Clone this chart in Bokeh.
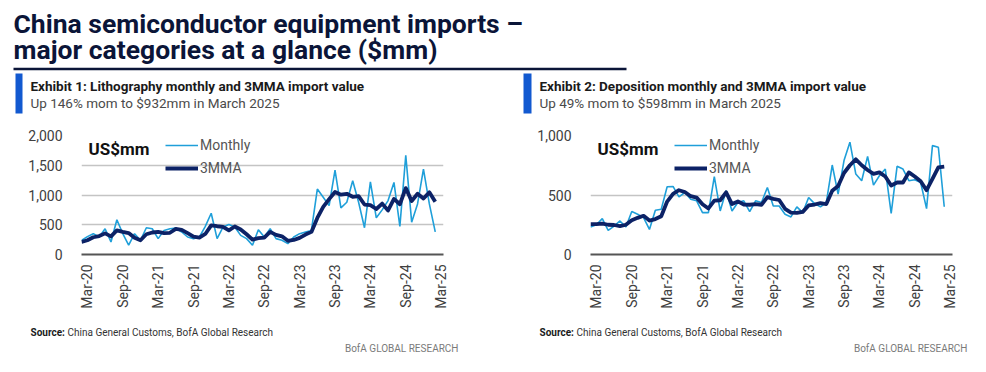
import math
import pandas as pd
from bokeh.plotting import figure
from bokeh.models import Range1d, Label, FixedTicker, Legend, LegendItem, ColumnDataSource
from bokeh.layouts import column, row
from bokeh.embed import file_html
from bokeh.resources import INLINE

# ---------------- data (Feb-20 .. Feb-25, US$mm) ----------------
months = [d.strftime("%b-%y") for d in pd.date_range("2020-02-01", "2025-03-01", freq="MS")]
tick_labels = ["Mar-20", "Sep-20", "Mar-21", "Sep-21", "Mar-22", "Sep-22",
               "Mar-23", "Sep-23", "Mar-24", "Sep-24", "Mar-25"]

litho_monthly = [235, 300, 350, 294, 433, 211, 583, 350, 156, 350, 239, 450, 433, 267, 405,
                 433, 444, 378, 294, 267, 294, 472, 694, 267, 461, 505, 461, 322, 267, 156,
                 417, 294, 433, 267, 239, 183, 294, 350, 378, 405, 1100, 961, 822, 1417, 783,
                 878, 1239, 878, 450, 1222, 617, 750, 906, 1211, 472, 1667, 544, 850, 1433,
                 850, 379]
litho_3mma = [210, 240, 290, 310, 355, 305, 405, 380, 360, 280, 240, 340, 370, 380, 360,
              365, 430, 415, 360, 300, 285, 345, 490, 475, 465, 405, 470, 420, 340, 250,
              275, 285, 380, 330, 305, 230, 245, 280, 335, 380, 615, 800, 930, 1050, 1005,
              1020, 970, 980, 840, 830, 765, 855, 740, 935, 845, 1115, 900, 1020, 940,
              1045, 885]

depo_monthly = [231, 250, 301, 203, 239, 282, 231, 361, 338, 310, 211, 372, 380, 569, 572,
                485, 521, 465, 451, 352, 352, 654, 366, 535, 366, 437, 451, 361, 451, 437,
                563, 408, 408, 338, 316, 400, 352, 479, 428, 400, 437, 752, 507, 789, 944,
                676, 620, 825, 583, 662, 718, 346, 741, 718, 620, 628, 605, 386, 915, 901,
                401]
depo_3mma = [255, 255, 260, 250, 248, 238, 250, 288, 308, 325, 285, 298, 322, 445, 510,
             540, 525, 490, 478, 422, 387, 452, 456, 522, 424, 446, 420, 418, 424, 418,
             482, 468, 458, 384, 352, 350, 358, 412, 420, 432, 424, 535, 575, 685, 750,
             800, 750, 710, 678, 690, 655, 580, 605, 605, 690, 655, 615, 540, 635, 732,
             738]

# ---------------- styles ----------------
FONT = "Roboto"
NAVY = "#0b1538"
LIGHT = "#1f9fd9"
DARK = "#0c2266"
BLUE_BAR = "#1259d0"
GRID = "#c4c4c4"
TXT = "#404040"

W = 984


def blank(width, height):
    f = figure(width=width, height=height, x_range=Range1d(0, width), y_range=Range1d(height, 0),
               output_backend="svg", toolbar_location=None, min_border=0, title=None)
    f.axis.visible = False
    f.grid.visible = False
    f.outline_line_color = None
    f.background_fill_color = "white"
    return f


def lab(f, x, y, text, size, color, bold=False, align="left"):
    # y is the wanted baseline; a small em-based correction is applied for the renderer
    px = float(size.replace("px", ""))
    f.add_layout(Label(x=x, y=y - 0.42 * px, text=text, text_font=FONT, text_font_size=size,
                       text_color=color, text_font_style="bold" if bold else "normal",
                       text_align=align, text_baseline="alphabetic"))


# ---------------- header (page y 0..118) ----------------
HH = 118
header = blank(W, HH)
lab(header, 13, 34, "China semiconductor equipment imports \u2013", "26.5px", NAVY, bold=True)
lab(header, 13, 60, "major categories at a glance ($mm)", "26.5px", NAVY, bold=True)
header.segment(x0=[13], y0=[68.5], x1=[626], y1=[68.5], line_color=NAVY, line_width=2.5)

exhibits = [
    (15, 22, 30, "Exhibit 1: Lithography monthly and 3MMA import value",
     "Up 146% mom to $932mm in March 2025"),
    (523, 531, 539, "Exhibit 2: Deposition monthly and 3MMA import value",
     "Up 49% mom to $598mm in March 2025"),
]
for bx0, bx1, tx, t1, t2 in exhibits:
    header.quad(left=[bx0], right=[bx1], top=[73], bottom=[113], fill_color=BLUE_BAR,
                line_color=None)
    lab(header, tx, 91, t1, "13.5px", "#1a1a1a", bold=True)
    lab(header, tx, 108, t2, "13.5px", "#4a4a4a")


# ---------------- charts (page y 118..315) ----------------
def chart(width, left_border, right_border, monthly, mma, ymax, yticks):
    xs = list(range(len(monthly)))
    p = figure(width=width, height=197, x_range=Range1d(0, 61.4), y_range=Range1d(0, ymax),
               output_backend="svg", toolbar_location=None, title=None,
               min_border_left=left_border, min_border_right=right_border,
               min_border_top=17, min_border_bottom=61)
    p.outline_line_color = None
    p.background_fill_color = "white"
    p.xgrid.visible = False
    p.ygrid.grid_line_color = GRID
    p.ygrid.grid_line_width = 1.5
    p.ygrid.ticker = FixedTicker(ticks=yticks)

    p.yaxis.ticker = FixedTicker(ticks=yticks)
    p.yaxis.major_label_overrides = {t: f"{t:,}" for t in yticks}
    p.yaxis.axis_line_color = None
    p.yaxis.major_tick_line_color = None
    p.yaxis.minor_tick_line_color = None
    p.yaxis.major_label_standoff = 13
    p.yaxis.major_label_text_font = FONT
    p.yaxis.major_label_text_font_size = "14px"
    p.yaxis.major_label_text_color = TXT

    tick_pos = [months.index(t) for t in tick_labels]
    p.xaxis.ticker = FixedTicker(ticks=tick_pos)
    p.xaxis.major_label_overrides = {i: months[i] for i in tick_pos}
    p.xaxis.major_label_orientation = math.pi / 2
    p.xaxis.axis_line_color = "#555555"
    p.xaxis.axis_line_width = 2
    p.xaxis.major_tick_line_color = None
    p.xaxis.minor_tick_line_color = None
    p.xaxis.major_label_standoff = 4
    p.xaxis.major_label_text_font = FONT
    p.xaxis.major_label_text_font_size = "14px"
    p.xaxis.major_label_text_color = TXT

    src = ColumnDataSource(dict(x=xs, m=monthly, a=mma))
    r1 = p.line("x", "m", source=src, line_color=LIGHT, line_width=1.6)
    r2 = p.line("x", "a", source=src, line_color=DARK, line_width=3.8, line_join="round")

    leg = Legend(items=[LegendItem(label="Monthly", renderers=[r1]),
                        LegendItem(label="3MMA", renderers=[r2])],
                 location=(84, 76), orientation="vertical",
                 glyph_width=33, glyph_height=20, label_height=20, spacing=3,
                 label_standoff=2, padding=0, margin=0,
                 background_fill_alpha=0, border_line_alpha=0,
                 label_text_font=FONT, label_text_font_size="14px",
                 label_text_color="#555555")
    p.add_layout(leg)
    p.add_layout(Label(x=7, y=96, x_units="screen", y_units="screen", text="US$mm",
                       text_font=FONT, text_font_size="17px", text_font_style="bold",
                       text_color="#111111"))
    return p


c1 = chart(516, 81, 73, litho_monthly, litho_3mma, 2000, [0, 500, 1000, 1500, 2000])
c2 = chart(468, 74, 32, depo_monthly, depo_3mma, 1000, [0, 500, 1000])

# ---------------- footer (page y 315..370) ----------------
FH = 55
footer = blank(W, FH)
for sx, bx in [(30, 458), (539, 967)]:
    lab(footer, sx, 21.5, "Source:", "10px", "#1a1a1a", bold=True)
    lab(footer, sx + 37, 21.5, "China General Customs, BofA Global Research", "10px", "#333333")
    lab(footer, bx, 37.5, "BofA GLOBAL RESEARCH", "10px", "#7a7a7a", align="right")

layout = column(header, row(c1, c2), footer)
open("out.html", "w").write(file_html(layout, INLINE))
